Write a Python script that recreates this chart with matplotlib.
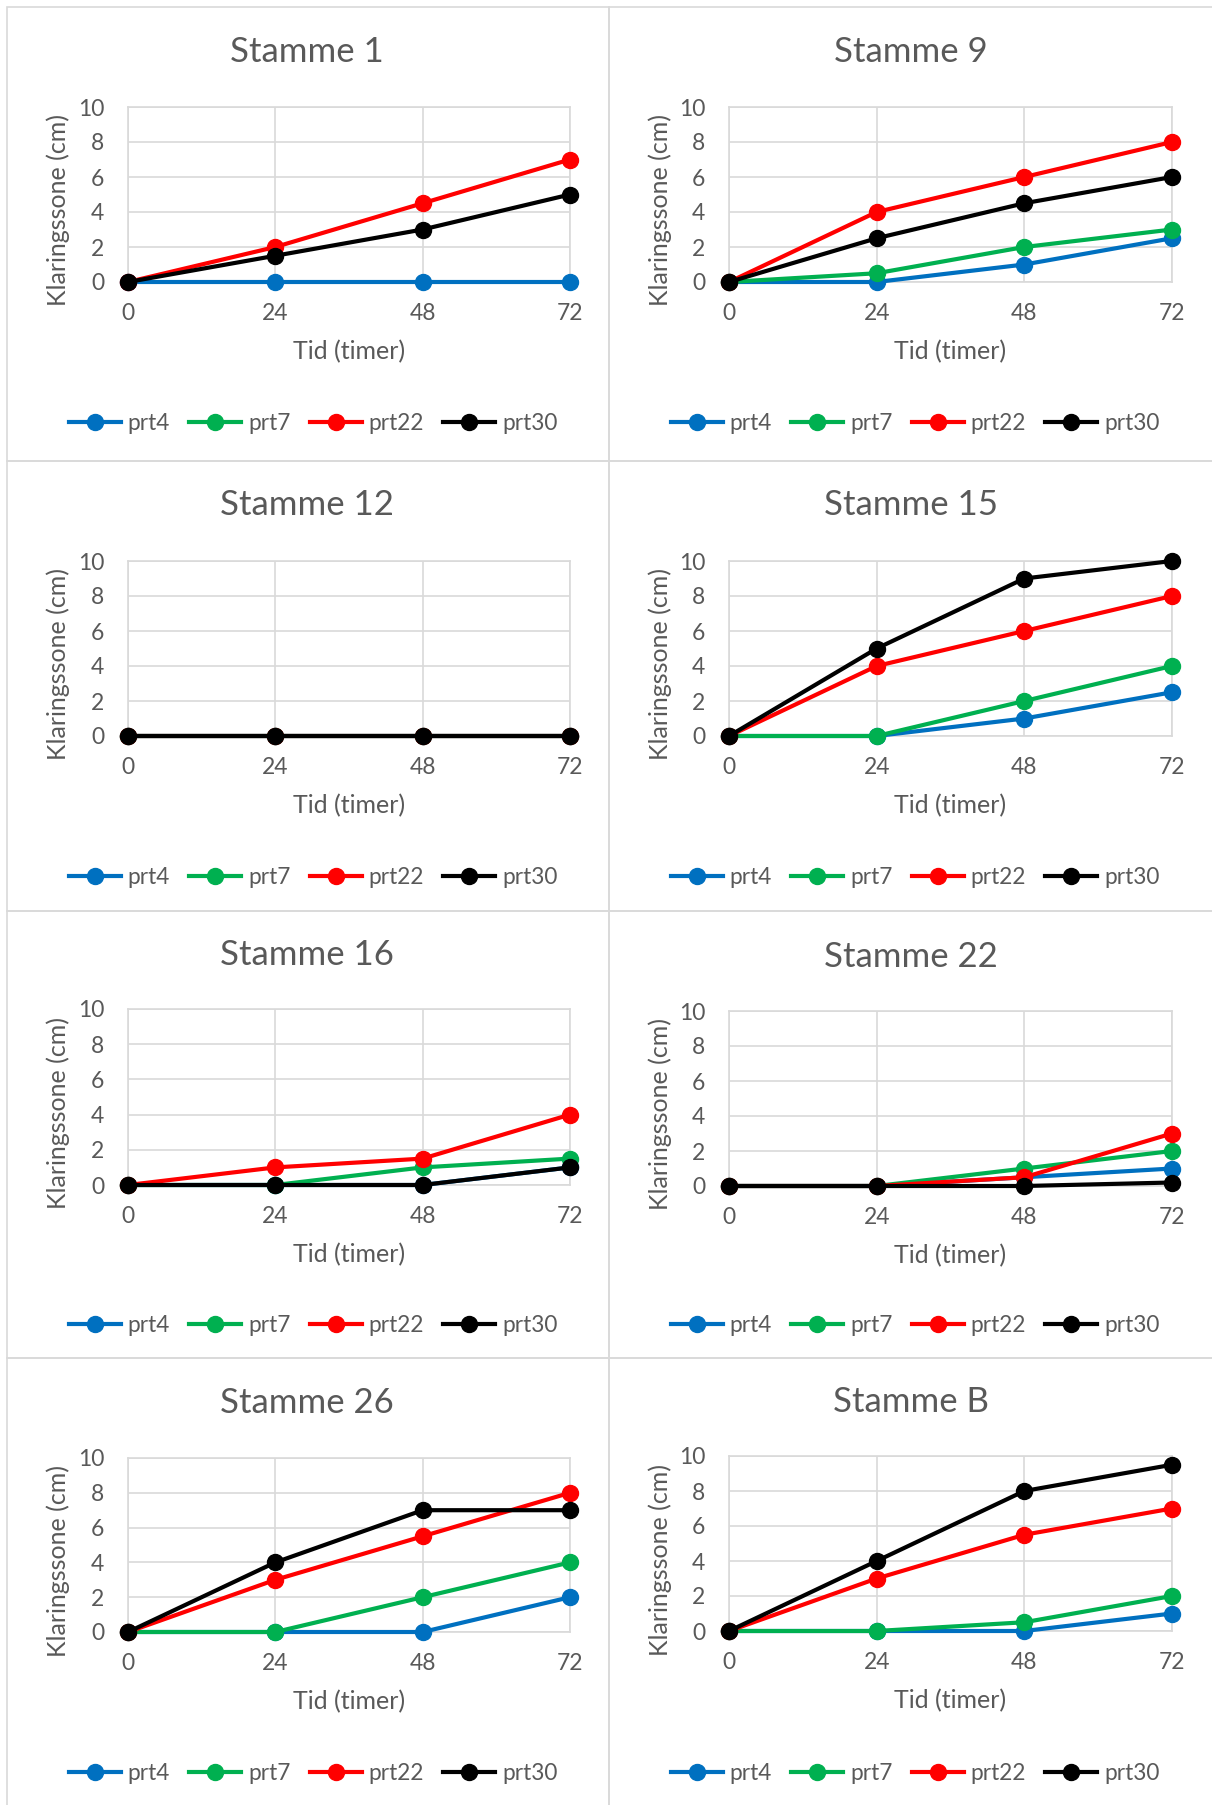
import numpy as np
import matplotlib.pyplot as plt
from matplotlib.patches import Rectangle

plt.rcParams['font.family'] = ['Lato', 'DejaVu Sans']

#=========================================================================
# data
#=========================================================================
hours = [0, 24, 48, 72]
titles = ['Stamme 1', 'Stamme 9', 'Stamme 12', 'Stamme 15',
          'Stamme 16', 'Stamme 22', 'Stamme 26', 'Stamme B']
series_names = ['prt4', 'prt7', 'prt22', 'prt30']
nan = np.nan

prt4 = [[0, 0, 0, 0], [0, 0, 1, 2.5], [0, 0, 0, 0], [0, 0, 1, 2.5],
        [0, 0, 0, 1], [0, 0, 0.5, 1], [0, 0, 0, 2], [0, 0, 0, 1]]
prt7 = [[nan, nan, nan, nan], [0, 0.5, 2, 3], [0, 0, 0, 0], [0, 0, 2, 4],
        [0, 0, 1, 1.5], [0, 0, 1, 2], [0, 0, 2, 4], [0, 0, 0.5, 2]]
prt22 = [[0, 2, 4.5, 7], [0, 4, 6, 8], [0, 0, 0, 0], [0, 4, 6, 8],
         [0, 1, 1.5, 4], [0, 0, 0.5, 3], [0, 3, 5.5, 8], [0, 3, 5.5, 7]]
prt30 = [[0, 1.5, 3, 5], [0, 2.5, 4.5, 6], [0, 0, 0, 0], [0, 5, 9, 10],
         [0, 0, 0, 1], [0, 0, 0, 0.2], [0, 4, 7, 7], [0, 4, 8, 9.5]]
colors = ['#0070C0', '#00B050', '#FF0000', '#000000']

#=========================================================================
# layout in pixels of the 1212x1805 picture
#=========================================================================
W, H = 1212, 1805
TXT = '#595959'
GRID = '#d9d9d9'

panel_x = [(7, 609), (609, 1214)]
panel_y = [(7, 461), (461, 911), (911, 1358), (1358, 1808)]
plot_x = [(128, 570), (729, 1172)]
plot_y = [[(107, 282), (107, 282)], [(561, 736), (561, 736)],
          [(1009, 1185), (1011, 1186)], [(1458, 1632), (1456, 1631)]]
title_y = [[52, 52], [505, 505], [955, 957], [1403, 1402]]
title_x = [307, 911]
ylab_x = [58, 660]
legend_y = [423, 877, 1325, 1773]
legend_x = [313, 915]


def fx(x):
    return x / W


def fy(y):
    return 1 - y / H


fig = plt.figure(figsize=(W / 100, H / 100), dpi=100)

for i, title in enumerate(titles):
    row, col = i // 2, i % 2

    # panel frame
    px0, px1 = panel_x[col]
    py0, py1 = panel_y[row]
    fig.patches.append(Rectangle((fx(px0), fy(py1)), fx(px1 - px0), (py1 - py0) / H,
                                 transform=fig.transFigure, fill=False,
                                 edgecolor=GRID, lw=1.2))

    x0, x1 = plot_x[col]
    y0, y1 = plot_y[row][col]
    ax = fig.add_axes([fx(x0), fy(y1), fx(x1 - x0), (y1 - y0) / H])

    for name, data, c in zip(series_names, [prt4, prt7, prt22, prt30], colors):
        ax.plot(hours, data[i], color=c, lw=3, marker='o', ms=11.5,
                label=name, clip_on=False, zorder=3)

    ax.set_xlim(0, 72)
    ax.set_ylim(0, 10)
    ax.set_xticks(hours)
    ax.set_yticks(range(0, 11, 2))
    ax.grid(True, color=GRID, lw=1.2)
    ax.set_axisbelow(True)
    for sp in ax.spines.values():
        sp.set_color(GRID)
        sp.set_linewidth(1.2)
    ax.tick_params(length=0, labelsize=16.5, labelcolor=TXT)
    ax.tick_params(axis='x', pad=15)
    ax.tick_params(axis='y', pad=17)

    fig.text(fx(title_x[col]), fy(title_y[row][col]), title, ha='center',
             va='center', fontsize=25, color=TXT)
    fig.text(fx(ylab_x[col]), fy((y0 + y1) / 2 + 16), 'Klaringssone (cm)',
             rotation=90, ha='center', va='center', fontsize=18, color=TXT)
    fig.text(fx((x0 + x1) / 2), fy(y1 + 70), 'Tid (timer)', ha='center',
             va='center', fontsize=18, color=TXT)

    ax.legend(loc='center', bbox_to_anchor=(fx(legend_x[col]), fy(legend_y[row])),
              bbox_transform=fig.transFigure, ncol=4, frameon=False,
              fontsize=16.3, labelcolor=TXT, handlelength=2.3,
              handletextpad=0.3, columnspacing=0.85)

fig.savefig('out.png', dpi=100, facecolor='white')
